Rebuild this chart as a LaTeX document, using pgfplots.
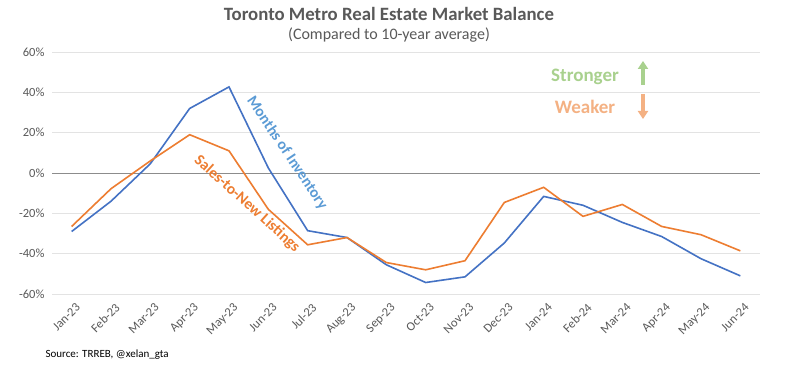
\documentclass[border=0pt]{standalone}
\usepackage{fontspec}
\setmainfont{Carlito}
\usepackage{pgfplots}
\pgfplotsset{compat=1.18}
\usetikzlibrary{arrows.meta}
\definecolor{mblue}{HTML}{4472C4}
\definecolor{morange}{HTML}{ED7D31}
\definecolor{lblue}{HTML}{5B9BD5}
\definecolor{lgreen}{HTML}{A9D18E}
\definecolor{lorange}{HTML}{F4B183}
\definecolor{txt}{HTML}{595959}
\definecolor{gridc}{HTML}{E3E3E3}
\begin{document}
\begin{tikzpicture}[x=1pt,y=1pt]
\useasboundingbox[fill=white] (0,0) rectangle (788,-369);
\begin{axis}[
  at={(52pt,-294pt)}, anchor=south west,
  scale only axis, width=708pt, height=242pt,
  xmin=-0.5, xmax=17.5, ymin=-60, ymax=60,
  ytick={-60,-40,...,60},
  xtick={0,...,17},
  xticklabels={Jan-23,Feb-23,Mar-23,Apr-23,May-23,Jun-23,Jul-23,Aug-23,Sep-23,Oct-23,Nov-23,Dec-23,Jan-24,Feb-24,Mar-24,Apr-24,May-24,Jun-24},
  axis line style={draw=none},
  major tick length=0pt,
  ymajorgrids, grid style={gridc, line width=0.8pt},
  /pgf/number format/assume math mode=true,
  yticklabel={\pgfmathprintnumber{\tick}\%},
  ticklabel style={font=\fontsize{12.5}{14}\selectfont, text=txt},
  yticklabel style={xshift=-4pt},
  xticklabel style={rotate=45, anchor=north east, yshift=-5pt},
  clip=false,
]
\draw[color=gray!90, line width=0.8pt] (axis cs:-0.5,0) -- (axis cs:17.5,0);
\addplot[mblue, line width=1.6pt, mark=none] coordinates {
(0,-29) (1,-14) (2,4.6) (3,32) (4,42.7) (5,2.5) (6,-28.6) (7,-32) (8,-45.5)
(9,-54.3) (10,-51.5) (11,-34.7) (12,-11.6) (13,-16) (14,-24.5) (15,-31.5) (16,-42.5) (17,-51)};
\addplot[morange, line width=1.6pt, mark=none] coordinates {
(0,-26.5) (1,-7.8) (2,6) (3,19) (4,11) (5,-18) (6,-35.6) (7,-32) (8,-44.4)
(9,-48) (10,-43.5) (11,-14.6) (12,-7.1) (13,-21.5) (14,-15.6) (15,-26.5) (16,-30.6) (17,-38.6)};
\end{axis}
\node[font=\fontsize{18.8}{22}\selectfont\bfseries, text=txt] at (389,-14) {Toronto Metro Real Estate Market Balance};
\node[font=\fontsize{16}{19}\selectfont, text=txt] at (389,-35) {(Compared to 10-year average)};
\node[font=\fontsize{15.5}{18}\selectfont\bfseries, text=lblue, rotate=-56] at (287,-153) {Months of Inventory};
\node[font=\fontsize{15.5}{18}\selectfont\bfseries, text=morange, rotate=-42] at (247,-204) {Sales-to-New Listings};
\node[font=\fontsize{19}{22}\selectfont\bfseries, text=lgreen] at (585,-77) {Stronger};
\node[font=\fontsize{19}{22}\selectfont\bfseries, text=lorange] at (585,-107) {Weaker};
\draw[lgreen, line width=3.5pt, -{Triangle[width=10pt,length=8pt]}] (643,-85) -- (643,-61);
\draw[lorange, line width=3.5pt, -{Triangle[width=10pt,length=8pt]}] (643,-94) -- (643,-119);
\node[anchor=west, font=\fontsize{11}{13}\selectfont, text=black] at (42,-355) {Source: TRREB, @xelan\_gta};
\end{tikzpicture}
\end{document}
